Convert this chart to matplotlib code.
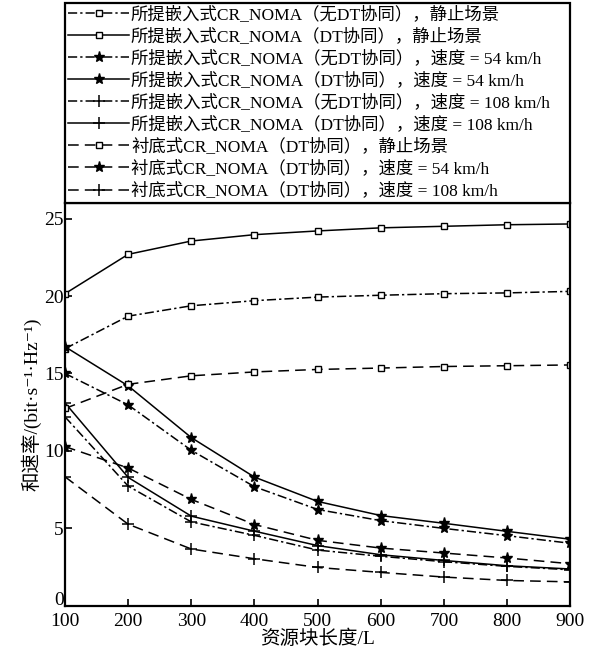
import matplotlib
matplotlib.use('Agg')
import matplotlib.pyplot as plt
import matplotlib.transforms as mtransforms

plt.rcParams['font.family'] = ['Liberation Serif', 'Noto Sans CJK SC', 'DejaVu Serif']

L = [100, 200, 300, 400, 500, 600, 700, 800, 900]

# 所提嵌入式, 无DT协同
prop_nodt_static = [16.6, 18.7, 19.37, 19.7, 19.93, 20.05, 20.15, 20.2, 20.3]
prop_nodt_54 = [15.0, 12.97, 10.04, 7.69, 6.22, 5.5, 5.0, 4.53, 4.04]
prop_nodt_108 = [12.2, 7.73, 5.42, 4.55, 3.6, 3.2, 2.85, 2.55, 2.33]
# 所提嵌入式, DT协同
prop_dt_static = [20.15, 22.69, 23.55, 23.96, 24.2, 24.4, 24.5, 24.6, 24.65]
prop_dt_54 = [16.73, 14.2, 10.86, 8.31, 6.74, 5.83, 5.33, 4.81, 4.3]
prop_dt_108 = [13.1, 8.29, 5.79, 4.82, 3.89, 3.3, 2.93, 2.59, 2.38]
# 衬底式, DT协同
under_static = [12.74, 14.3, 14.85, 15.1, 15.26, 15.35, 15.45, 15.5, 15.55]
under_54 = [10.28, 8.9, 6.87, 5.25, 4.23, 3.73, 3.41, 3.09, 2.72]
under_108 = [8.33, 5.27, 3.67, 3.04, 2.48, 2.16, 1.86, 1.64, 1.55]

labels = [
    '所提嵌入式CR_NOMA（无DT协同），静止场景',
    '所提嵌入式CR_NOMA（DT协同），静止场景',
    '所提嵌入式CR_NOMA（无DT协同），速度 = 54 km/h',
    '所提嵌入式CR_NOMA（DT协同），速度 = 54 km/h',
    '所提嵌入式CR_NOMA（无DT协同），速度 = 108 km/h',
    '所提嵌入式CR_NOMA（DT协同），速度 = 108 km/h',
    '衬底式CR_NOMA（DT协同），静止场景',
    '衬底式CR_NOMA（DT协同），速度 = 54 km/h',
    '衬底式CR_NOMA（DT协同），速度 = 108 km/h',
]
series = [prop_nodt_static, prop_dt_static, prop_nodt_54, prop_dt_54,
          prop_nodt_108, prop_dt_108, under_static, under_54, under_108]

dashdot = (0, (6, 2, 1.5, 2))
dashed = (0, (7, 4))
styles = [dashdot, '-', dashdot, '-', dashdot, '-', dashed, dashed, dashed]
markers = ['s', 's', '*', '*', '+', '+', 's', '*', '+']

fig = plt.figure(figsize=(5.91, 6.55), dpi=100)
ax = fig.add_axes([0.110, 0.075, 0.855, 0.615])

for y, lab, ls, m in zip(series, labels, styles, markers):
    if m == 's':
        ax.plot(L, y, color='black', lw=1.1, ls=ls, marker=m, ms=5,
                mfc='white', mec='black', mew=1.0, label=lab)
    elif m == '*':
        ax.plot(L, y, color='black', lw=1.1, ls=ls, marker=m, ms=8,
                mfc='black', mec='black', label=lab)
    else:
        ax.plot(L, y, color='black', lw=1.1, ls=ls, marker=m, ms=8,
                mew=1.1, label=lab)

ax.set_xlim(100, 900)
ax.set_ylim(0, 26)
ax.set_xticks(L)
ax.set_yticks([0, 5, 10, 15, 20, 25])
ax.tick_params(direction='in', length=5, width=1.2, labelsize=14,
               top=False, right=False)
ax.tick_params(axis='x', pad=5)
ax.tick_params(axis='y', pad=1)
for s in ax.spines.values():
    s.set_linewidth(1.6)
ax.set_xlabel('资源块长度/L', fontsize=14, labelpad=0)
ax.set_ylabel('和速率/(bit·s⁻¹·Hz⁻¹)', fontsize=14, labelpad=2)

# 纵轴"0"略上移，避免与横轴"100"重叠
fig.canvas.draw()
lab0 = ax.get_yticklabels()[0]
lab0.set_transform(lab0.get_transform() +
                   mtransforms.ScaledTranslation(0, 5 / 72, fig.dpi_scale_trans))

leg = ax.legend(loc='lower left', bbox_to_anchor=(0, 1.0, 1, 0.5),
                mode='expand', borderaxespad=0, fontsize=12.5,
                handlelength=3.5, handletextpad=0.1, labelspacing=0.3,
                borderpad=0.2, fancybox=False, edgecolor='black',
                framealpha=1)
leg.get_frame().set_linewidth(1.6)

fig.savefig('out.png', dpi=100)
